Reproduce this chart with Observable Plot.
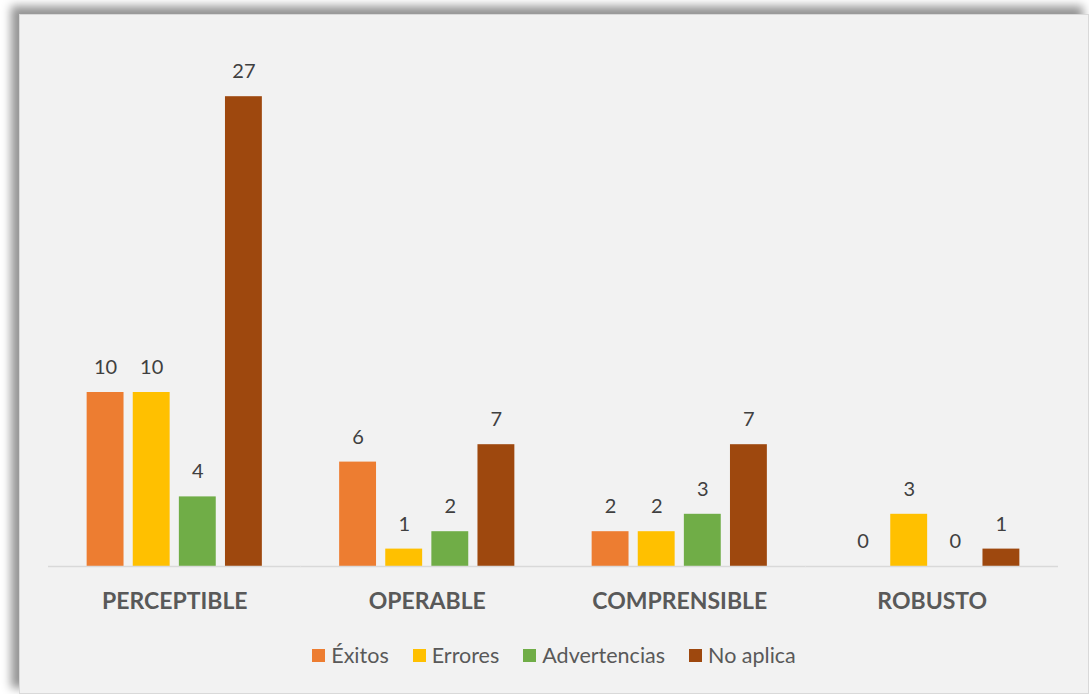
<!DOCTYPE html>
<html>
<head>
<meta charset="utf-8">
<script src="https://cdn.jsdelivr.net/npm/d3@7"></script>
<script src="https://cdn.jsdelivr.net/npm/@observablehq/plot@0.6"></script>
<style>
  html, body { margin: 0; padding: 0; background: #ffffff; width: 1089px; height: 694px; overflow: hidden; }
  #panel {
    position: absolute; left: 19px; top: 14px; width: 1068px; height: 678px;
    background: #f2f2f2; border: 1px solid #d9d9d9;
    box-shadow: -7px -7px 9px 1px rgba(0,0,0,0.42);
    font-family: Lato, "Noto Sans", sans-serif;
  }
  #chart svg { display: block; }
  #legend {
    display: flex; justify-content: center; align-items: center;
    margin-top: 8px; height: 24px; font-size: 21.5px; color: #595959;
  }
  #legend .item { display: flex; align-items: center; margin: 0 12px; }
  #legend .sw { width: 13px; height: 13px; margin-right: 6px; }
</style>
</head>
<body>
<div id="panel">
  <div id="chart"></div>
  <div id="legend"></div>
</div>
<script>
const categories = ["PERCEPTIBLE", "OPERABLE", "COMPRENSIBLE", "ROBUSTO"];
const series = ["Éxitos", "Errores", "Advertencias", "No aplica"];
const colors = ["#ED7D31", "#FFC000", "#70AD47", "#9E480E"];
const exitos = [10, 6, 2, 0];
const errores = [10, 1, 2, 3];
const advertencias = [4, 2, 3, 0];
const noAplica = [27, 7, 7, 1];

const seriesValues = [exitos, errores, advertencias, noAplica];
const data = [];
categories.forEach((c, i) => {
  series.forEach((s, j) => data.push({category: c, series: s, value: seriesValues[j][i]}));
});

const chart = Plot.plot({
  width: 1068,
  height: 620,
  marginLeft: 28,
  marginRight: 30,
  marginTop: 29,
  marginBottom: 69,
  style: {background: "transparent", fontFamily: "Lato, 'Noto Sans', sans-serif"},
  fx: {domain: categories, padding: 0, round: false, label: null},
  x: {domain: series, paddingInner: 0.2, paddingOuter: 0.838, round: false, axis: null},
  y: {domain: [0, 30], axis: null},
  color: {domain: series, range: colors},
  marks: [
    Plot.barY(data, {fx: "category", x: "series", y: "value", fill: "series"}),
    Plot.ruleY([0], {stroke: "#d9d9d9", strokeWidth: 1.5}),
    Plot.text(data, {fx: "category", x: "series", y: "value", text: d => String(d.value), dy: -25, fontSize: 20, fill: "#404040"}),
    Plot.axisFx({anchor: "bottom", tickSize: 0, tickPadding: 26, fontSize: 23, fontWeight: "bold", fill: "#595959", label: null})
  ]
});
document.getElementById("chart").appendChild(chart);

const legend = document.getElementById("legend");
series.forEach((s, i) => {
  const item = document.createElement("div");
  item.className = "item";
  const sw = document.createElement("div");
  sw.className = "sw";
  sw.style.background = colors[i];
  const t = document.createElement("span");
  t.textContent = s;
  item.appendChild(sw);
  item.appendChild(t);
  legend.appendChild(item);
});
</script>
</body>
</html>
